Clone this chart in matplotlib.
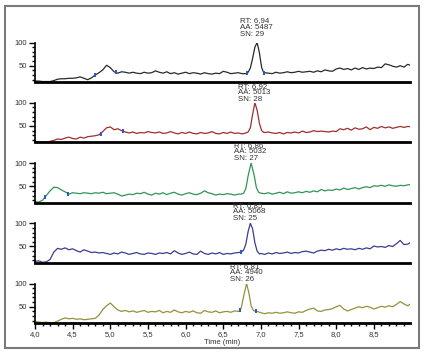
import numpy as np
import matplotlib
matplotlib.use("Agg")
import matplotlib.pyplot as plt
from matplotlib.ticker import MultipleLocator, FixedLocator
from matplotlib.patches import Rectangle

plt.rcParams['font.family'] = ['Liberation Sans', 'DejaVu Sans']

# sampling grid of the chromatograms (min)
times = np.round(np.arange(4.0, 9.0 + 1e-9, 0.05), 2)

# relative abundance, one row per 0.5 min
sig_1 = [17, 17, 16, 16, 16, 18, 21, 22, 22, 23,
         23, 24, 26, 23, 20, 24, 30, 35, 41, 51,
         46, 37, 34, 37, 36, 34, 36, 34, 33, 36,
         34, 35, 39, 36, 34, 37, 33, 35, 32, 34,
         36, 33, 35, 34, 32, 35, 33, 32, 34, 33,
         38, 36, 33, 34, 35, 33, 33, 40, 70, 100,
         60, 35, 34, 33, 36, 34, 35, 37, 35, 36,
         38, 36, 37, 38, 36, 39, 37, 41, 39, 38,
         43, 45, 42, 44, 41, 45, 42, 46, 43, 45,
         44, 47, 46, 54, 52, 49, 47, 50, 47, 53,
         50]
sig_2 = [17, 16, 16, 15, 17, 19, 22, 21, 24, 26,
         23, 22, 26, 24, 27, 28, 29, 31, 38, 46,
         48, 42, 44, 40, 37, 35, 37, 34, 36, 35,
         38, 36, 35, 37, 34, 35, 38, 35, 33, 36,
         34, 37, 34, 33, 36, 34, 35, 38, 34, 33,
         36, 34, 37, 34, 35, 33, 36, 55, 92, 90,
         52, 36, 37, 35, 34, 36, 33, 36, 35, 37,
         35, 39, 36, 37, 40, 38, 39, 38, 37, 39,
         38, 44, 42, 45, 41, 46, 43, 44, 48, 42,
         47, 45, 49, 46, 48, 45, 47, 49, 47, 49,
         48]
sig_3 = [17, 16, 20, 30, 40, 48, 47, 42, 38, 33,
         36, 35, 34, 36, 35, 34, 36, 35, 37, 34,
         35, 36, 33, 29, 31, 33, 32, 35, 34, 37,
         33, 31, 35, 33, 36, 32, 35, 37, 33, 31,
         34, 36, 33, 32, 35, 40, 36, 34, 31, 33,
         32, 34, 33, 31, 33, 34, 45, 95, 70, 40,
         35, 34, 36, 33, 35, 37, 34, 38, 35, 36,
         38, 36, 39, 37, 40, 38, 43, 40, 42, 41,
         44, 42, 46, 43, 45, 47, 44, 47, 49, 47,
         51, 50, 52, 50, 53, 51, 50, 52, 51, 53,
         54]
sig_4 = [18, 19, 16, 17, 22, 38, 46, 44, 47, 43,
         45, 41, 38, 43, 40, 37, 38, 36, 37, 35,
         33, 36, 34, 38, 36, 33, 35, 37, 34, 33,
         36, 35, 33, 36, 35, 37, 34, 41, 36, 33,
         35, 38, 34, 33, 40, 35, 33, 36, 34, 37,
         33, 35, 34, 36, 37, 40, 55, 100, 60, 40,
         35, 33, 36, 34, 37, 35, 36, 38, 35, 37,
         36, 39, 40, 38, 36, 40, 42, 41, 44, 42,
         45, 43, 46, 44, 45, 43, 46, 44, 47, 45,
         51, 49, 50, 48, 52, 50, 56, 63, 54, 55,
         60]
sig_5 = [18, 17, 16, 17, 15, 16, 19, 23, 26, 24,
         25, 23, 24, 22, 23, 24, 25, 32, 44, 52,
         58, 50, 43, 40, 42, 39, 41, 38, 40, 42,
         38, 40, 39, 42, 37, 40, 38, 43, 39, 37,
         40, 38, 41, 37, 36, 42, 39, 38, 41, 37,
         39, 40, 38, 41, 40, 48, 100, 60, 42, 40,
         37, 35, 37, 36, 38, 36, 37, 39, 37, 36,
         39, 38, 42, 45, 47, 41, 40, 43, 44, 46,
         50, 53, 45, 41, 44, 47, 50, 48, 51, 49,
         45, 48, 51, 49, 52, 50, 55, 61, 56, 52,
         58]

# finer points across the main peak of each trace
peak_t1 = [6.80, 6.83, 6.86, 6.89, 6.92, 6.95, 6.98, 7.01, 7.04]
peak_y1 = [33, 36, 45, 66, 90, 100, 78, 46, 34]
peak_t2 = [6.80, 6.83, 6.86, 6.89, 6.92, 6.95, 6.98, 7.01, 7.04]
peak_y2 = [35, 37, 46, 75, 100, 84, 56, 40, 36]
peak_t3 = [6.74, 6.77, 6.80, 6.83, 6.87, 6.91, 6.94, 6.97, 7.00]
peak_y3 = [33, 35, 45, 72, 100, 74, 47, 37, 35]
peak_t4 = [6.74, 6.77, 6.80, 6.83, 6.86, 6.89, 6.92, 6.95, 6.98]
peak_y4 = [38, 42, 55, 82, 100, 88, 58, 40, 34]
peak_t5 = [6.71, 6.74, 6.77, 6.81, 6.84, 6.87, 6.90, 6.93]
peak_y5 = [40, 48, 72, 100, 80, 52, 42, 40]

# integration start/end marks (min)
marks_1 = [4.80, 5.07, 6.81, 7.04]
marks_2 = [4.87, 5.17]
marks_3 = [4.13, 4.44]
marks_4 = [6.74]
marks_5 = [6.72, 6.93]

labels = ["RT: 6,94\nAA: 5487\nSN: 29",
          "RT: 6,92\nAA: 5013\nSN: 28",
          "RT: 6,86\nAA: 5032\nSN: 27",
          "RT: 6,85\nAA: 5068\nSN: 25",
          "RT: 6,81\nAA: 4940\nSN: 26"]
label_dy = [5, 0, 1, 1.5, 0.5]
colors = ["#2a2a2a", "#9e2f2f", "#2f9652", "#3a3d8f", "#93923c"]

signals = [sig_1, sig_2, sig_3, sig_4, sig_5]
peaks_t = [peak_t1, peak_t2, peak_t3, peak_t4, peak_t5]
peaks_y = [peak_y1, peak_y2, peak_y3, peak_y4, peak_y5]
marks = [marks_1, marks_2, marks_3, marks_4, marks_5]


def build_trace(base, pt, py):
    base = np.asarray(base, dtype=float)
    keep = (times < pt[0] - 1e-9) | (times > pt[-1] + 1e-9)
    t = np.concatenate([times[keep], pt])
    y = np.concatenate([base[keep], py])
    order = np.argsort(t)
    return t[order], y[order]


fig = plt.figure(figsize=(4.26, 3.55), dpi=100)
fig.patches.append(Rectangle((5 / 426, 1 - 348 / 355), 414 / 426, 342 / 355,
                             transform=fig.transFigure, fill=False,
                             edgecolor="#7a7a7a", linewidth=1.5))

left, width, height = 35 / 426, 375 / 426, 39.5 / 355
for i in range(5):
    bottom = 1 - (82 + 60.25 * i) / 355
    ax = fig.add_axes([left, bottom, width, height])
    t, y = build_trace(signals[i], peaks_t[i], peaks_y[i])
    ax.plot(t, y, color=colors[i], lw=0.9)
    mt = np.array(marks[i])
    ax.plot(mt, np.interp(mt, t, y), ls="none", marker="|", ms=3.5,
            mew=1.4, color="#2b55d0")

    apex = peaks_t[i][int(np.argmax(peaks_y[i]))]
    ax.annotate(labels[i], xy=(apex, 100), xytext=(-17, label_dy[i]),
                textcoords="offset pixels", ha="left", va="bottom",
                fontsize=5.7, color="#333333", linespacing=0.92,
                annotation_clip=False, zorder=0)

    ax.set_xlim(4.0, 8.98)
    ax.set_ylim(15, 100)
    ax.spines["top"].set_visible(False)
    ax.spines["right"].set_visible(False)
    ax.spines["bottom"].set_linewidth(2.0)
    ax.spines["left"].set_linewidth(1.2)

    ax.yaxis.set_major_locator(FixedLocator([50, 100]))
    ax.yaxis.set_minor_locator(FixedLocator([20, 30, 40, 60, 70, 80, 90]))
    ax.tick_params(axis="y", which="major", length=4, width=1.0,
                   labelsize=5.5, pad=1.5, labelcolor="#333333")
    ax.tick_params(axis="y", which="minor", length=2.5, width=1.0)

    if i < 4:
        ax.tick_params(axis="x", which="both", bottom=False, labelbottom=False)
    else:
        xt = np.arange(4.0, 8.51, 0.5)
        ax.set_xticks(xt)
        ax.set_xticklabels([f"{v:.1f}".replace(".", ",") for v in xt])
        ax.xaxis.set_minor_locator(MultipleLocator(0.1))
        ax.tick_params(axis="x", which="major", length=4, width=1.0,
                       labelsize=5.5, pad=1.5, labelcolor="#333333")
        ax.tick_params(axis="x", which="minor", length=2.5, width=1.0)
        ax.set_xlabel("Time (min)", fontsize=5.5, labelpad=1, color="#333333")

fig.savefig("out.png", dpi=100)
